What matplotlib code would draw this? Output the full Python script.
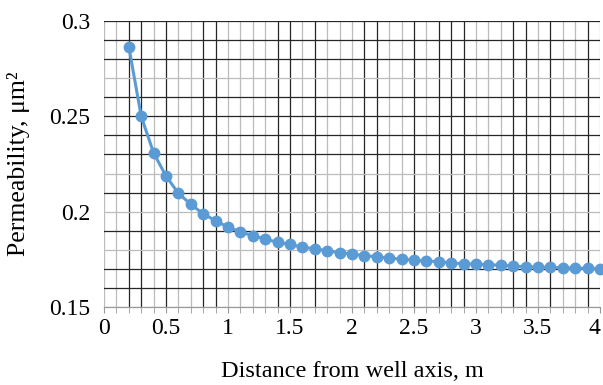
import matplotlib.pyplot as plt
import numpy as np

# distance from the well axis, m
distance = [0.2, 0.3, 0.4, 0.5, 0.6, 0.7, 0.8, 0.9, 1.0, 1.1,
            1.2, 1.3, 1.4, 1.5, 1.6, 1.7, 1.8, 1.9, 2.0, 2.1,
            2.2, 2.3, 2.4, 2.5, 2.6, 2.7, 2.8, 2.9, 3.0, 3.1,
            3.2, 3.3, 3.4, 3.5, 3.6, 3.7, 3.8, 3.9, 4.0]
# permeability, um^2
permeability = [0.2866, 0.2500, 0.2308, 0.2187, 0.2096, 0.2039, 0.1988, 0.1953, 0.1918, 0.1895,
                0.1873, 0.1857, 0.1839, 0.1829, 0.1813, 0.1806, 0.1794, 0.1785, 0.1778, 0.1769,
                0.1764, 0.1755, 0.1752, 0.1745, 0.1741, 0.1738, 0.1731, 0.1727, 0.1724, 0.1722,
                0.1719, 0.1715, 0.1711, 0.1710, 0.1708, 0.1706, 0.1704, 0.1703, 0.1699]

x_ticks = [0, 0.5, 1, 1.5, 2, 2.5, 3, 3.5, 4]
x_tick_labels = ["0", "0.5", "1", "1.5", "2", "2.5", "3", "3.5", "4"]
y_ticks = [0.15, 0.2, 0.25, 0.3]
y_tick_labels = ["0.15", "0.2", "0.25", "0.3"]

# the scanned grid shows some lines darker than others (moire), mimic it
dark_x = [0.2, 0.3, 0.5, 0.8, 0.9, 1.4, 1.5, 1.7, 2.1, 2.2, 2.5, 2.7, 2.8, 2.9,
          3.3, 3.4, 3.6, 3.9]
dark_y = [0.30, 0.29, 0.28, 0.26, 0.25, 0.24, 0.23, 0.21, 0.19, 0.17, 0.16]

plt.rcParams['font.family'] = ['Liberation Serif', 'DejaVu Serif']

fig = plt.figure(figsize=(6.03, 3.85), dpi=100)
ax = fig.add_axes([104 / 603, 1 - 307 / 385, 496 / 603, 286 / 385])

# grid lines every 0.1 m and every 0.01 um^2
for i in range(41):
    xv = round(i * 0.1, 1)
    dark = any(abs(xv - d) < 1e-6 for d in dark_x)
    ax.axvline(xv, color='#262626' if dark else '#bcbcbc', lw=0.9, zorder=1)
for i in range(16):
    yv = round(0.15 + i * 0.01, 2)
    dark = any(abs(yv - d) < 1e-6 for d in dark_y)
    ax.axhline(yv, color='#262626' if dark else '#bcbcbc', lw=0.9, zorder=1)

ax.plot(distance, permeability, color='#5B9BD5', lw=2.2, marker='o',
        markersize=7.5, zorder=3, clip_on=False)

ax.set_xlim(0, 4)
ax.set_ylim(0.15, 0.3)
ax.set_xticks(x_ticks)
ax.set_xticklabels(x_tick_labels)
ax.set_yticks(y_ticks)
ax.set_yticklabels(y_tick_labels)
ax.set_xticks(np.arange(0, 4.01, 0.1), minor=True)

for side in ['top', 'right', 'left']:
    ax.spines[side].set_visible(False)
ax.spines['bottom'].set_color('#9a9a9a')
ax.spines['bottom'].set_linewidth(0.9)

ax.tick_params(axis='x', which='both', direction='out', length=4,
               color='#9a9a9a', labelsize=17, pad=4)
ax.tick_params(axis='y', which='both', length=0, labelsize=17, pad=10)
ax.get_xticklabels()[-1].set_horizontalalignment('right')

ax.set_xlabel("Distance from well axis, m", fontsize=17.5)
ax.xaxis.set_label_coords(0.5, -0.19)
ax.set_ylabel("Permeability, μm²", fontsize=18.5)
ax.yaxis.set_label_coords(-0.15, 0.5)

fig.savefig("out.png", dpi=100)
